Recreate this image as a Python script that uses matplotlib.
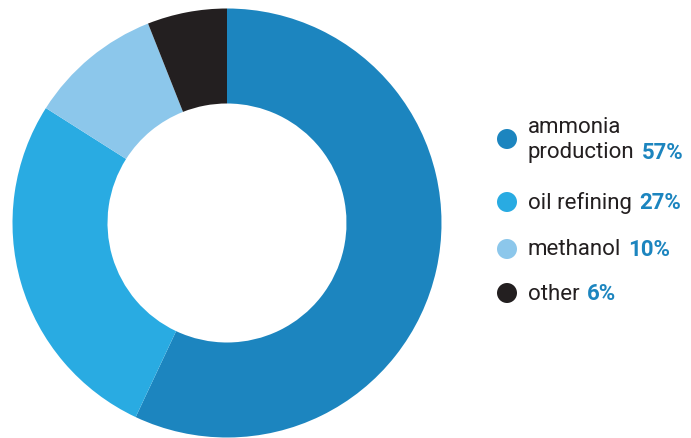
import matplotlib.pyplot as plt
from matplotlib import font_manager
from matplotlib.patches import Circle

labels = ['ammonia\nproduction', 'oil refining', 'methanol', 'other']
shares = [57, 27, 10, 6]
colors = ['#1c85bf', '#29abe2', '#8cc7eb', '#231f20']

names = {f.name for f in font_manager.fontManager.ttflist}
font = 'Liberation Sans Narrow' if 'Liberation Sans Narrow' in names else 'Roboto'

fig = plt.figure(figsize=(6.91, 4.39), dpi=100)
ax = fig.add_axes([0, 0, 1, 1])
ax.pie(shares, colors=colors, startangle=90, counterclock=False,
       center=(227, 215), radius=214.5,
       wedgeprops=dict(width=95, linewidth=0))
ax.set_xlim(0, 691)
ax.set_ylim(0, 439)
ax.set_aspect('equal')
ax.axis('off')

# legend, built by hand
rows_y = [439 - 140, 439 - 203, 439 - 250, 439 - 294]
fig.canvas.draw()
renderer = fig.canvas.get_renderer()
for lab, val, col, y in zip(labels, shares, colors, rows_y):
    ax.add_patch(Circle((507, y), 10, color=col, lw=0))
    ax.text(528, y, lab, fontsize=16, family=font, color='#231f20',
            va='center', ha='left', linespacing=1.2)
    # width of last line of the label
    last = lab.split('\n')[-1]
    tmp = ax.text(528, 0, last, fontsize=16, family=font)
    w = tmp.get_window_extent(renderer).width
    tmp.remove()
    ny = y - 13 if '\n' in lab else y
    ax.text(535 + w, ny, f'{val}%', fontsize=16, family=font, weight='bold',
            color='#1c85bf', va='center', ha='left')

fig.savefig('out.png', dpi=100)
